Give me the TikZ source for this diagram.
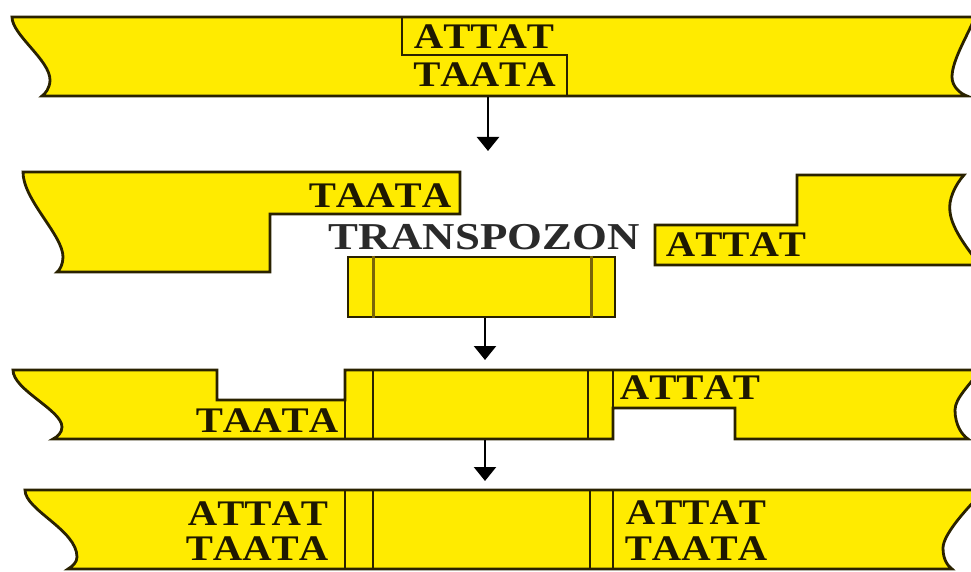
\documentclass[tikz,border=0pt]{standalone}
\usepackage{fontspec}
\setmainfont{Liberation Serif}[Kerning=Off]
\usetikzlibrary{arrows.meta}
\definecolor{strandfill}{HTML}{FFEB00}
\definecolor{strandline}{HTML}{2A2200}
\definecolor{irline}{HTML}{7A6508}
\definecolor{basetext}{HTML}{1E1800}
\definecolor{labeltext}{HTML}{2A2A2A}
\begin{document}
\begin{tikzpicture}[x=1pt,y=-1pt,
  strand/.style={fill=strandfill, draw=strandline, line width=2.8pt, line join=miter},
  seam/.style={draw=strandline, line width=2.6pt},
  ir/.style={draw=irline, line width=3.6pt},
  bases/.style={inner sep=0pt, text=basetext, font=\bfseries\fontsize{36}{36}\selectfont},
  tlabel/.style={inner sep=0pt, text=labeltext, font=\bfseries\fontsize{38}{38}\selectfont},
  flow/.style={-{Triangle[width=22pt,length=14pt]}, line width=2.4pt, draw=black}
]
\useasboundingbox (0,0) rectangle (971,572);
\clip (0,0) rectangle (971,572);

% target DNA with the staggered cut site
\path[strand] (12,17) -- (975,17)
  .. controls (968,35) and (952,60) .. (952,77)
  .. controls (952,87) and (961,94) .. (967,96) -- (42,96)
  .. controls (45,94) and (50,88) .. (50,80)
  .. controls (50,60) and (12,35) .. (12,17) -- cycle;
\draw[seam] (402,17) -- (402,55) -- (567,55) -- (567,96);
\node[bases] (s1top) at (484,36.5) {\scalebox{1.13}[1]{ATTAT}};
\node[bases] (s1bot) at (484.5,75) {\scalebox{1.13}[1]{TAATA}};

% cut ends and the transposon
\path[strand] (23,172) -- (460,172) -- (460,214) -- (270,214) -- (270,272) -- (57,272)
  .. controls (60,270) and (63,264) .. (63,257)
  .. controls (63,235) and (23,200) .. (23,172) -- cycle;
\node[bases] (s2left) at (380,196) {\scalebox{1.13}[1]{TAATA}};
\path[strand] (655,225) -- (797,225) -- (797,175) -- (964,175)
  .. controls (955,185) and (948,200) .. (950,212)
  .. controls (952,230) and (970,252) .. (980,265) -- (655,265) -- cycle;
\node[bases] (s2right) at (736,245) {\scalebox{1.13}[1]{ATTAT}};
\node[tlabel] (tlab) at (484,237) {\scalebox{1.18}[1]{TRANSPOZON}};
\node[strand, rectangle, minimum width=267pt, minimum height=60pt, inner sep=0pt]
  (tn) at (481.5,287) {};
\draw[ir] ([xshift=27pt]tn.north west) -- ([xshift=27pt]tn.south west);
\draw[ir] ([xshift=-25pt]tn.north east) -- ([xshift=-25pt]tn.south east);

% transposon inserted, single-strand gaps
\path[strand] (13,370) -- (217,370) -- (217,400) -- (345,400) -- (345,370) -- (980,370)
  .. controls (970,385) and (955,398) .. (955,410)
  .. controls (955,425) and (962,435) .. (968,439) -- (735,439) -- (735,408)
  -- (613,408) -- (613,439) -- (53,439)
  .. controls (57,437) and (62,433) .. (62,427)
  .. controls (62,410) and (13,390) .. (13,370) -- cycle;
\draw[seam] (345,400) -- (345,439);
\draw[seam] (373,370) -- (373,439);
\draw[seam] (588,370) -- (588,439);
\draw[seam] (613,370) -- (613,408);
\node[bases] (s3left) at (267,421) {\scalebox{1.13}[1]{TAATA}};
\node[bases] (s3right) at (690,388) {\scalebox{1.13}[1]{ATTAT}};

% gaps filled: duplicated target site on both sides
\path[strand] (25,490) -- (985,490)
  .. controls (965,510) and (943,535) .. (943,548)
  .. controls (943,560) and (948,566) .. (952,569) -- (68,569)
  .. controls (73,566) and (77,562) .. (77,557)
  .. controls (77,530) and (25,510) .. (25,490) -- cycle;
\draw[seam] (345,490) -- (345,569);
\draw[seam] (373,490) -- (373,569);
\draw[seam] (590,490) -- (590,569);
\draw[seam] (613,490) -- (613,569);
\node[bases] (s4lt) at (258,514) {\scalebox{1.13}[1]{ATTAT}};
\node[bases] (s4lb) at (257,549) {\scalebox{1.13}[1]{TAATA}};
\node[bases] (s4rt) at (696,513) {\scalebox{1.13}[1]{ATTAT}};
\node[bases] (s4rb) at (696,549) {\scalebox{1.13}[1]{TAATA}};

% steps
\coordinate (a1s) at (488,97);
\coordinate (a1e) at (488,151);
\draw[flow] (a1s) -- (a1e);
\coordinate (a2e) at (485,360);
\draw[flow] (tn.south -| a2e) -- (a2e);
\coordinate (a3s) at (485,440);
\coordinate (a3e) at (485,481);
\draw[flow] (a3s) -- (a3e);
\end{tikzpicture}
\end{document}
